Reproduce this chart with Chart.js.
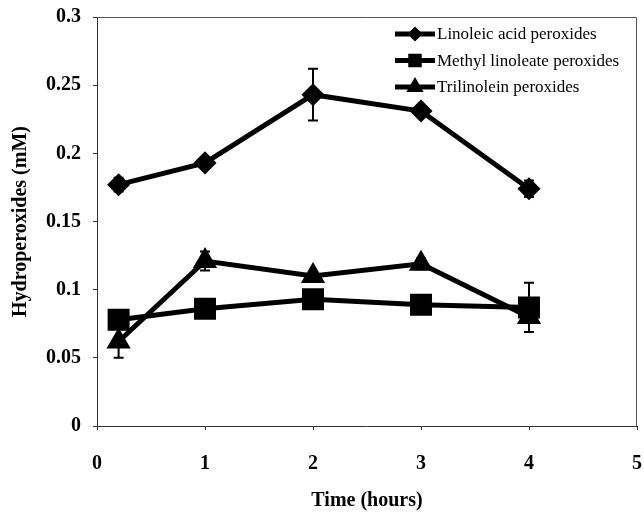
<!DOCTYPE html>
<html>
<head>
<meta charset="utf-8">
<script src="https://cdn.jsdelivr.net/npm/chart.js@4"></script>
<style>
  html, body { margin: 0; padding: 0; overflow: hidden; background: #fff; }
  #wrap { position: relative; width: 644px; height: 514px; }
  canvas { display: block; }
</style>
</head>
<body>
<div id="wrap"><canvas id="myChart"></canvas></div>
<script>
// values
var times = [0.2, 1, 2, 3, 4];
var linoleic = [0.177, 0.193, 0.243, 0.231, 0.174];
var linoleicErr = [0.005, 0.004, 0.019, 0.003, 0.006];
var methyl = [0.078, 0.086, 0.093, 0.089, 0.087];
var methylErr = [0.004, 0.003, 0.004, 0.003, 0.018];
var trilinolein = [0.062, 0.121, 0.110, 0.119, 0.080];
var trilinoleinErr = [0.012, 0.007, 0.003, 0.004, 0.011];
var seriesNames = ['Linoleic acid peroxides', 'Methyl linoleate peroxides', 'Trilinolein peroxides'];
var yTickLabels = ['0', '0.05', '0.1', '0.15', '0.2', '0.25', '0.3'];
var xTickLabels = ['0', '1', '2', '3', '4', '5'];

function toPoints(ys) {
    return times.map(function (t, i) { return { x: t, y: ys[i] }; });
}

// keep tick-label overflow from pushing the plot area in
function noScalePadding(scale) {
    scale.paddingLeft = 0;
    scale.paddingRight = 0;
    scale.paddingTop = 0;
    scale.paddingBottom = 0;
}

// error bars, drawn through the scales
var errorBars = {
    id: 'errorBars',
    beforeDatasetsDraw: function (chart) {
        var ctx = chart.ctx;
        var xs = chart.scales.x, ys = chart.scales.y;
        ctx.save();
        ctx.strokeStyle = '#000';
        ctx.lineWidth = 2;
        chart.data.datasets.forEach(function (ds) {
            ds.errors.forEach(function (e, i) {
                var px = xs.getPixelForValue(ds.data[i].x);
                var top = ys.getPixelForValue(ds.data[i].y + e);
                var bot = ys.getPixelForValue(ds.data[i].y - e);
                ctx.beginPath();
                ctx.moveTo(px, top); ctx.lineTo(px, bot);
                ctx.moveTo(px - 5, top); ctx.lineTo(px + 5, top);
                ctx.moveTo(px - 5, bot); ctx.lineTo(px + 5, bot);
                ctx.stroke();
            });
        });
        ctx.restore();
    }
};

// frame round the plot + legend inside it
var frameAndLegend = {
    id: 'frameAndLegend',
    afterDraw: function (chart) {
        var ctx = chart.ctx, a = chart.chartArea;
        ctx.save();
        ctx.strokeStyle = '#555';
        ctx.lineWidth = 1;
        ctx.beginPath();
        ctx.moveTo(a.left, a.top + 0.5);
        ctx.lineTo(a.right - 0.5, a.top + 0.5);
        ctx.lineTo(a.right - 0.5, a.bottom);
        ctx.stroke();

        ctx.font = '17px "Liberation Serif"';
        ctx.textBaseline = 'middle';
        ctx.fillStyle = '#000';
        chart.data.datasets.forEach(function (ds, i) {
            var y = 34 + i * 26.5;
            ctx.strokeStyle = '#000';
            ctx.lineWidth = 5;
            ctx.beginPath();
            ctx.moveTo(395, y); ctx.lineTo(435, y);
            ctx.stroke();
            Chart.helpers.drawPoint(ctx, { pointStyle: ds.pointStyle, radius: ds.legendRadius, borderWidth: 1 }, 415, y);
            ctx.fill();
            ctx.fillText(ds.label, 437, y + 1);
        });
        ctx.restore();
    }
};

var ctx = document.getElementById('myChart').getContext('2d');
var myChart = new Chart(ctx, {
    type: 'line',
    data: {
        datasets: [{
            label: seriesNames[0],
            data: toPoints(linoleic),
            errors: linoleicErr,
            pointStyle: 'rectRot',
            pointRadius: 8,
            legendRadius: 4,
            borderColor: '#000',
            backgroundColor: '#000',
            borderWidth: 5
        }, {
            label: seriesNames[1],
            data: toPoints(methyl),
            errors: methylErr,
            pointStyle: 'rect',
            pointRadius: 12,
            legendRadius: 6,
            borderColor: '#000',
            backgroundColor: '#000',
            borderWidth: 5
        }, {
            label: seriesNames[2],
            data: toPoints(trilinolein),
            errors: trilinoleinErr,
            pointStyle: 'triangle',
            pointRadius: 9,
            legendRadius: 5,
            borderColor: '#000',
            backgroundColor: '#000',
            borderWidth: 5
        }]
    },
    options: {
        responsive: true,
        maintainAspectRatio: false,
        animation: false,
        layout: { autoPadding: false, padding: { top: 17, right: 7, left: 0, bottom: 0 } },
        elements: { point: { borderWidth: 1, hoverRadius: 8 }, line: { tension: 0 } },
        plugins: {
            legend: { display: false },
            tooltip: { enabled: false }
        },
        scales: {
            x: {
                type: 'linear',
                min: 0,
                max: 5,
                ticks: {
                    stepSize: 1,
                    padding: 22,
                    color: '#000',
                    font: { family: 'Liberation Serif', size: 20, weight: 'bold' },
                    callback: function (v, i) { return xTickLabels[i]; }
                },
                grid: { drawOnChartArea: false, drawTicks: true, tickLength: 4, color: '#333' },
                border: { display: true, color: '#333', width: 1 },
                title: {
                    display: true,
                    text: 'Time (hours)',
                    color: '#000',
                    padding: { top: 0, bottom: 1 },
                    font: { family: 'Liberation Serif', size: 20, weight: 'bold' }
                },
                afterFit: function (scale) { scale.height = 88; noScalePadding(scale); }
            },
            y: {
                min: 0,
                max: 0.3,
                ticks: {
                    stepSize: 0.05,
                    padding: 12,
                    color: '#000',
                    font: { family: 'Liberation Serif', size: 20, weight: 'bold' },
                    callback: function (v, i) { return yTickLabels[i]; }
                },
                grid: { drawOnChartArea: false, drawTicks: true, tickLength: 4, color: '#333' },
                border: { display: true, color: '#333', width: 1 },
                title: {
                    display: true,
                    text: 'Hydroperoxides (mM)',
                    color: '#000',
                    padding: { top: 9, bottom: 0 },
                    font: { family: 'Liberation Serif', size: 20, weight: 'bold' }
                },
                afterFit: function (scale) { scale.width = 97; noScalePadding(scale); }
            }
        }
    },
    plugins: [errorBars, frameAndLegend]
});
</script>
</body>
</html>
